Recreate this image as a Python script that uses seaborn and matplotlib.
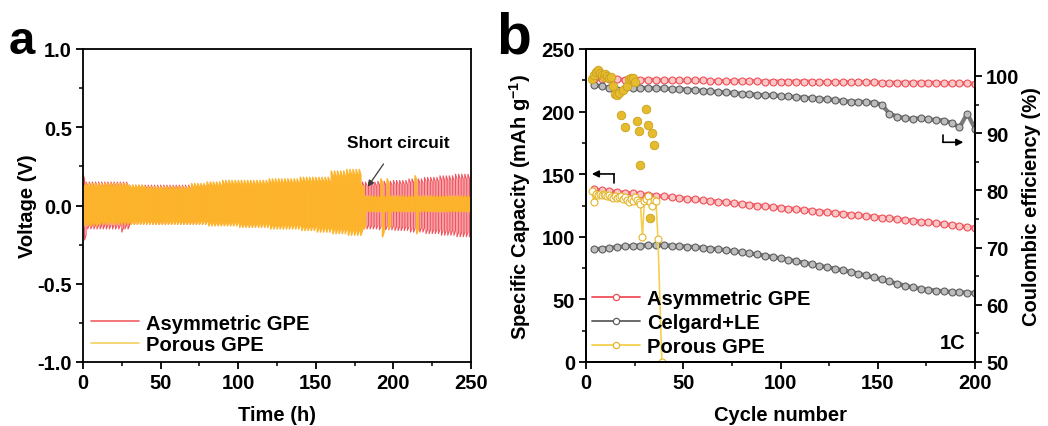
import numpy as np
import matplotlib
matplotlib.use("Agg")
import matplotlib.pyplot as plt
import seaborn as sns

# ---------------- panel a: Li symmetric cells, voltage envelope per 10 h block (0-250 h)
block_h = 10
cycle_h = 2
asym_hi = [0.15, 0.15, 0.15, 0.13, 0.13, 0.13, 0.13, 0.13, 0.13, 0.13, 0.13, 0.13, 0.14,
           0.14, 0.14, 0.14, 0.14, 0.14, 0.15, 0.155, 0.16, 0.17, 0.18, 0.19, 0.20]
asym_lo = [-0.15, -0.15, -0.15, -0.12, -0.12, -0.12, -0.12, -0.12, -0.12, -0.12, -0.13, -0.13, -0.13,
           -0.13, -0.14, -0.14, -0.14, -0.14, -0.15, -0.155, -0.16, -0.17, -0.18, -0.19, -0.20]
porous_hi = [0.14, 0.14, 0.14, 0.13, 0.12, 0.12, 0.12, 0.14, 0.15, 0.16, 0.16, 0.16, 0.17,
             0.17, 0.18, 0.18, 0.22, 0.23, 0.06, 0.06, 0.06, 0.06, 0.06, 0.06, 0.06]
porous_lo = [-0.13, -0.12, -0.12, -0.12, -0.12, -0.12, -0.12, -0.12, -0.13, -0.13, -0.14, -0.14, -0.15,
             -0.15, -0.16, -0.17, -0.18, -0.19, -0.04, -0.04, -0.04, -0.04, -0.04, -0.04, -0.04]
# isolated spikes (time, high, low)
asym_spike_t = [0, 24]
asym_spike_hi = [0.20, 0.15]
asym_spike_lo = [-0.22, -0.17]
porous_spike_t = [180, 192, 196, 214]
porous_spike_hi = [0.13, 0.17, 0.17, 0.19]
porous_spike_lo = [-0.15, -0.20, -0.15, -0.18]

# ---------------- panel b: cycling at 1C
cycles = list(range(4, 201, 4))
asym_cap = [138.0, 137.0, 136.4, 135.8, 135.2, 134.6, 134.0, 133.4, 132.8, 132.2,
            131.6, 131.0, 130.4, 129.8, 129.2, 128.6, 128.0, 127.4, 126.8, 126.2,
            125.6, 125.0, 124.4, 123.8, 123.2, 122.6, 122.0, 121.4, 120.8, 120.2,
            119.6, 119.0, 118.4, 117.8, 117.2, 116.6, 116.0, 115.4, 114.8, 114.2,
            113.5, 112.9, 112.2, 111.5, 110.8, 110.1, 109.4, 108.6, 107.8, 107.0]
asym_ce = [99.5, 99.4, 99.4, 99.4, 99.3, 99.3, 99.3, 99.3, 99.3, 99.2,
           99.2, 99.2, 99.2, 99.2, 99.2, 99.1, 99.1, 99.1, 99.1, 99.1,
           99.1, 99.1, 99.0, 99.0, 99.0, 99.0, 99.0, 99.0, 99.0, 98.9,
           98.9, 98.9, 98.9, 98.9, 98.9, 98.9, 98.9, 98.8, 98.8, 98.8,
           98.8, 98.8, 98.8, 98.8, 98.8, 98.7, 98.7, 98.7, 98.7, 98.6]
celgard_cap = [90.0, 90.5, 91.2, 91.8, 92.3, 92.7, 93.0, 93.2, 93.3, 93.2,
               93.0, 92.6, 92.2, 91.7, 91.2, 90.6, 90.0, 89.3, 88.5, 87.7,
               86.8, 85.9, 84.9, 83.9, 82.8, 81.7, 80.5, 79.3, 78.1, 76.9,
               75.7, 74.5, 73.2, 72.0, 70.6, 69.1, 67.5, 66.0, 64.3, 62.6,
               61.0, 59.6, 58.5, 57.7, 57.0, 56.5, 56.0, 55.7, 55.4, 55.0]
celgard_ce = [98.4, 98.2, 97.9, 97.6, 97.8, 97.9, 97.9, 97.9, 97.8, 97.8,
              97.7, 97.7, 97.6, 97.5, 97.4, 97.3, 97.2, 97.1, 97.0, 96.9,
              96.8, 96.7, 96.6, 96.6, 96.5, 96.4, 96.3, 96.2, 96.1, 96.0,
              95.9, 95.8, 95.6, 95.5, 95.5, 95.4, 95.3, 95.0, 93.4, 92.9,
              92.6, 92.5, 92.6, 92.4, 92.3, 92.2, 91.8, 91.0, 93.4, 90.8]
porous_cap_cycle = list(range(3, 38)) + [39]
porous_cap = [136.5, 128.0, 134.0, 133.5, 134.5, 133.0, 134.0, 133.5, 132.5, 133.5,
              132.0, 131.0, 132.5, 131.0, 131.5, 132.5, 130.5, 131.5, 129.5, 128.0,
              130.0, 128.5, 131.5, 129.5, 128.0, 126.5, 99.6, 128.5, 130.0, 132.8,
              128.0, 124.5, 129.6, 128.5, 98.2, 0.0]
porous_ce_cycle = list(range(3, 29)) + [31, 32, 33, 34, 35]
porous_ce = [99.4, 100.1, 100.6, 101.0, 100.5, 100.2, 99.8, 100.3, 99.9, 99.6,
             99.8, 98.2, 96.8, 96.6, 97.0, 93.2, 97.6, 91.0, 98.2, 99.4,
             99.7, 99.6, 99.0, 92.2, 90.3, 84.5, 94.2, 91.5, 75.2, 90.1, 88.0]

RED = "#EF4F58"
RED_A = "#F0555F"
YEL_A = "#FDB42A"
GRAY = "#5E5E5E"
GOLD = "#E6BC2E"


def build_profile(hi, lo, spike_t, spike_hi, spike_lo, t_end=250):
    """Galvanostatic zigzag: one cycle = +plateau then -plateau, amplitudes from the block envelope."""
    t, v = [], []
    for t0 in range(0, t_end, cycle_h):
        b = min(t0 // block_h, len(hi) - 1)
        h, l = hi[b], lo[b]
        for st, sh, sl in zip(spike_t, spike_hi, spike_lo):
            if t0 <= st < t0 + cycle_h:
                h, l = sh, sl
        half = cycle_h / 2
        t += [t0, t0 + half, t0 + half, t0 + cycle_h]
        v += [h, h * 0.85, l, l * 0.85]
    return np.array(t), np.array(v)


sns.set_theme(style="ticks")
plt.rcParams["font.family"] = ["Liberation Sans", "DejaVu Sans"]
plt.rcParams["font.weight"] = "bold"
plt.rcParams["axes.labelweight"] = "bold"
plt.rcParams["text.color"] = "black"
plt.rcParams["axes.labelcolor"] = "black"
plt.rcParams["xtick.color"] = "black"
plt.rcParams["ytick.color"] = "black"
plt.rcParams["mathtext.fontset"] = "custom"
plt.rcParams["mathtext.rm"] = "Liberation Sans:bold"
plt.rcParams["mathtext.bf"] = "Liberation Sans:bold"
plt.rcParams["mathtext.default"] = "bf"

FS = 14.5
fig = plt.figure(figsize=(10.48, 4.27), dpi=100)
W, H = 1048, 427
ax_a = fig.add_axes([83 / W, (H - 363) / H, 388 / W, 313 / H])
ax_b = fig.add_axes([586 / W, (H - 363) / H, 389 / W, 313 / H])


def style_axis(ax):
    for s in ax.spines.values():
        s.set_linewidth(1.3)
        s.set_color("black")
    ax.tick_params(which="major", direction="out", length=5, width=1.3, labelsize=FS, pad=3,
                   colors="black")
    ax.tick_params(which="minor", direction="out", length=3, width=1.1, colors="black")
    for lab in ax.get_xticklabels() + ax.get_yticklabels():
        lab.set_fontweight("bold")


# ---- panel a
ta, va = build_profile(asym_hi, asym_lo, asym_spike_t, asym_spike_hi, asym_spike_lo)
tp, vp = build_profile(porous_hi, porous_lo, porous_spike_t, porous_spike_hi, porous_spike_lo)
sns.lineplot(x=ta, y=va, ax=ax_a, sort=False, estimator=None, color=RED_A, lw=0.8)
sns.lineplot(x=tp, y=vp, ax=ax_a, sort=False, estimator=None, color=YEL_A, lw=1.1)
ax_a.set_xlim(0, 250)
ax_a.set_ylim(-1.0, 1.0)
ax_a.set_xticks([0, 50, 100, 150, 200, 250])
ax_a.set_xticks([25, 75, 125, 175, 225], minor=True)
ax_a.set_yticks([-1.0, -0.5, 0.0, 0.5, 1.0])
ax_a.set_yticks([-0.75, -0.25, 0.25, 0.75], minor=True)
ax_a.set_yticklabels(["-1.0", "-0.5", "0.0", "0.5", "1.0"])
style_axis(ax_a)
ax_a.set_xlabel("Time (h)", fontsize=FS, fontweight="bold", labelpad=9)
ax_a.set_ylabel("Voltage (V)", fontsize=FS, fontweight="bold", labelpad=0)
ax_a.annotate("Short circuit", xy=(183.5, 0.12), xytext=(203, 0.40), ha="center", va="center",
              fontsize=12.5, fontweight="bold",
              arrowprops=dict(arrowstyle="-|>", color="#3A3A3A", lw=0.9, mutation_scale=9,
                              shrinkA=9, shrinkB=0))
la1, = ax_a.plot([], [], color="#F36B70", lw=1.3)
la2, = ax_a.plot([], [], color="#F6D46E", lw=1.3)
ax_a.legend([la1, la2], ["Asymmetric GPE", "Porous GPE"], loc="lower left", frameon=False,
            fontsize=FS, handlelength=2.4, handletextpad=0.35, labelspacing=0.12,
            borderaxespad=0.2, borderpad=0.2)

# ---- panel b
ax_c = ax_b.twinx()
mk = dict(marker="o", markersize=5, mew=0.8)
sns.lineplot(x=cycles, y=asym_cap, ax=ax_b, estimator=None, color="#F27A80", lw=3.0,
             mfc="#FBC8C8", mec=RED, **mk)
sns.lineplot(x=cycles, y=celgard_cap, ax=ax_b, estimator=None, color="#7A7A7A", lw=3.0,
             mfc="#BDBDBD", mec=GRAY, **mk)
sns.lineplot(x=porous_cap_cycle, y=porous_cap, ax=ax_b, sort=False, estimator=None, color="#F4D04E",
             lw=1.2, mfc="white", mec="#E3B52A", **mk)
sns.lineplot(x=cycles, y=asym_ce, ax=ax_c, estimator=None, color="#F27A80", lw=3.0,
             mfc="#FBC8C8", mec=RED, **mk)
sns.lineplot(x=cycles, y=celgard_ce, ax=ax_c, estimator=None, color="#7A7A7A", lw=3.0,
             mfc="#BDBDBD", mec=GRAY, **mk)
sns.scatterplot(x=porous_ce_cycle, y=porous_ce, ax=ax_c, s=38, color=GOLD, edgecolor="#C9A020",
                linewidth=0.6, zorder=5)

ax_b.set_xlim(0, 200)
ax_b.set_ylim(0, 250)
ax_b.set_xticks([0, 50, 100, 150, 200])
ax_b.set_xticks([25, 75, 125, 175], minor=True)
ax_b.set_yticks([0, 50, 100, 150, 200, 250])
ax_b.set_yticks([25, 75, 125, 175, 225], minor=True)
ax_c.set_ylim(50, 104.7)
ax_c.set_yticks([50, 60, 70, 80, 90, 100])
ax_c.set_yticks([55, 65, 75, 85, 95], minor=True)
style_axis(ax_b)
style_axis(ax_c)
ax_b.set_xlabel("Cycle number", fontsize=FS, fontweight="bold", labelpad=9)
ax_b.set_ylabel("Specific Capacity (mAh g$^{-1}$)", fontsize=FS, fontweight="bold", labelpad=6)
ax_c.set_ylabel("Coulombic efficiency (%)", fontsize=FS, fontweight="bold", labelpad=2)

# axis pointer arrows
ax_b.plot([14.5, 14.5], [143, 150.2], color="black", lw=1.2)
ax_b.annotate("", xy=(3.0, 150.2), xytext=(14.5, 150.2),
              arrowprops=dict(arrowstyle="-|>", color="black", lw=1.2, mutation_scale=10,
                              shrinkA=0, shrinkB=0))
ax_c.plot([183.4, 183.4], [89.7, 88.4], color="black", lw=1.2)
ax_c.annotate("", xy=(194.0, 88.4), xytext=(183.4, 88.4),
              arrowprops=dict(arrowstyle="-|>", color="black", lw=1.2, mutation_scale=10,
                              shrinkA=0, shrinkB=0))
ax_b.text(195, 8, "1C", ha="right", va="bottom", fontsize=FS, fontweight="bold")

# legend keys: thin line with a small open circle
lb1, = ax_b.plot([], [], color=RED, lw=1.3, marker="o", markersize=4.5, mfc="white", mec=RED, mew=0.9)
lb2, = ax_b.plot([], [], color=GRAY, lw=1.3, marker="o", markersize=4.5, mfc="white", mec=GRAY, mew=0.9)
lb3, = ax_b.plot([], [], color="#F4D04E", lw=1.3, marker="o", markersize=4.5, mfc="white",
                 mec="#E3B52A", mew=0.9)
ax_b.legend([lb1, lb2, lb3], ["Asymmetric GPE", "Celgard+LE", "Porous GPE"], loc="lower left",
            frameon=False, fontsize=FS, handlelength=2.4, handletextpad=0.35, labelspacing=0.25,
            borderaxespad=0.2, borderpad=0.1)

fig.text(9 / W, 1 - 54 / H, "a", fontsize=34, fontweight="bold", ha="left", va="baseline")
fig.text(496 / W, 1 - 54 / H, "b", fontsize=41, fontweight="bold", ha="left", va="baseline")

fig.savefig("out.png", dpi=100)
